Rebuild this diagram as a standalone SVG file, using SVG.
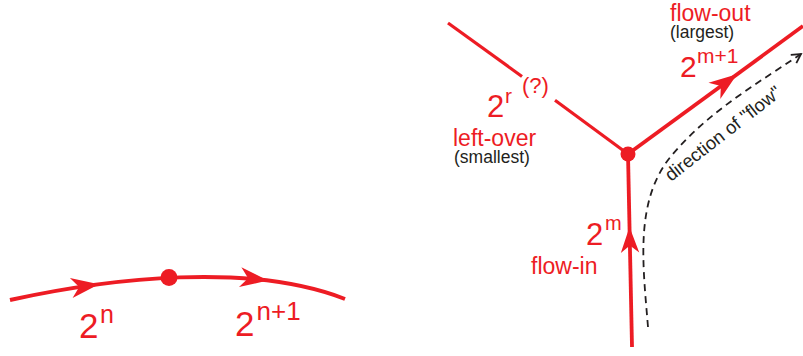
<svg xmlns="http://www.w3.org/2000/svg" xmlns:xlink="http://www.w3.org/1999/xlink" width="803" height="356" viewBox="0 0 803 356">
<style>
.red{fill:#ed1c24;}
.blk{fill:#231f20;}
.t{font-family:"Liberation Sans",Arial,sans-serif;}
.ln{fill:none;stroke:#ed1c24;stroke-linecap:butt;}
.dash{fill:none;stroke:#231f20;stroke-width:1.8;stroke-dasharray:7 5;}
</style>
<defs>
<path id="ah" d="M0,0 L-28,-10 L-20,0 L-28,10 Z" fill="#ed1c24"/>
<path id="chev" d="M-9,-5 L0,0 L-9,5" fill="none" stroke="#231f20" stroke-width="1.8"/>
</defs>
<g id="connectors">
<path class="ln" stroke-width="4" d="M10,300 C110,278 250,262 345,299"/>
<use xlink:href="#ah" href="#ah" transform="translate(99,284.3) rotate(-7.6)"/>
<use xlink:href="#ah" href="#ah" transform="translate(268,280.5) rotate(6.8)"/>
<line class="ln" stroke-width="3.2" x1="448" y1="23" x2="522" y2="76.5"/>
<line class="ln" stroke-width="3.2" x1="555" y1="100.3" x2="628" y2="154"/>
<line class="ln" stroke-width="3.8" x1="628" y1="154" x2="803" y2="26"/>
<use xlink:href="#ah" href="#ah" transform="translate(737,74.3) rotate(-36.2)"/>
<line class="ln" stroke-width="3.8" x1="628" y1="154" x2="632" y2="347"/>
<use xlink:href="#ah" href="#ah" transform="translate(629.5,227) rotate(-91.2) scale(0.92)"/>
<path class="dash" d="M648,327 C643,265 634,200 672,155 S760,82 801,54"/>
<use xlink:href="#chev" href="#chev" transform="translate(801,54) rotate(-34)"/>
<text class="t blk" font-size="18.5" transform="translate(671,182) rotate(-38)">direction of "flow"</text>
</g>
<g id="node-left">
<circle class="red" cx="169" cy="277.5" r="8.5"/>
<text class="t red"><tspan x="79" y="338" font-size="35">2</tspan><tspan x="100" y="323" font-size="25">n</tspan></text>
<text class="t red"><tspan x="235" y="336" font-size="35">2</tspan><tspan x="256.5" y="320" font-size="26">n+1</tspan></text>
</g>
<g id="node-right">
<circle class="red" cx="628" cy="154" r="7.5"/>
<text class="t red" x="670" y="21" font-size="23">flow-out</text>
<text class="t blk" x="670" y="38" font-size="17.5">(largest)</text>
<text class="t red"><tspan x="680" y="77" font-size="30">2</tspan><tspan x="697" y="63" font-size="21">m+1</tspan></text>
<text class="t red"><tspan x="487" y="117" font-size="31">2</tspan><tspan x="505" y="103" font-size="21">r</tspan><tspan x="522" y="93" font-size="22">(?)</tspan></text>
<text class="t red" x="453" y="146" font-size="23">left-over</text>
<text class="t blk" x="454" y="163" font-size="17.5">(smallest)</text>
<text class="t red"><tspan x="586" y="245" font-size="31">2</tspan><tspan x="605" y="230" font-size="20">m</tspan></text>
<text class="t red" x="531" y="274" font-size="23">flow-in</text>
</g>
</svg>
